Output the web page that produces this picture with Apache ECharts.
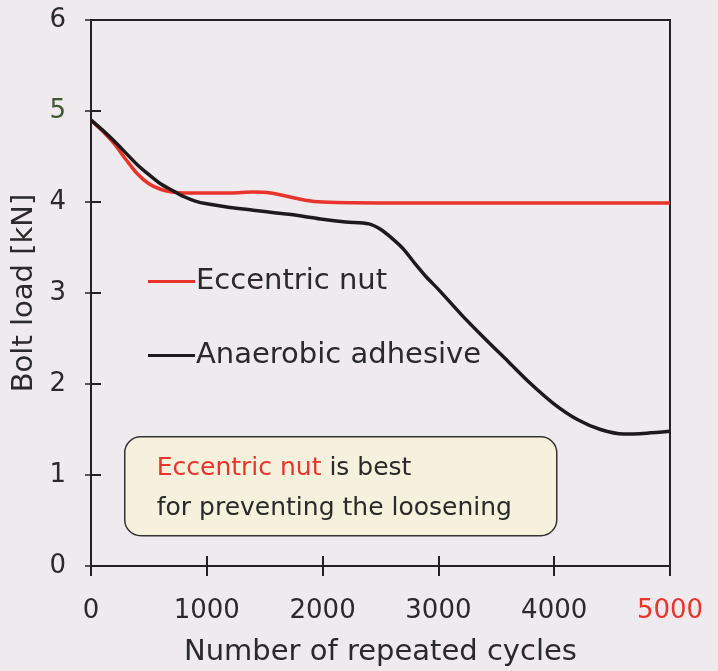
<!DOCTYPE html>
<html><head><meta charset="utf-8">
<script src="https://cdn.jsdelivr.net/npm/echarts@6/dist/echarts.min.js"></script>
<style>html,body{margin:0;padding:0;background:#efeaee;}#c{width:718px;height:671px;}</style>
</head><body><div id="c"></div>
<script>
const xTicks = [0, 1000, 2000, 3000, 4000, 5000];
const yTicks = [0, 1, 2, 3, 4, 5, 6];
const eccX = [0,100,200,300,400,500,600,700,800,1000,1200,1400,1550,1700,1850,2000,2500,3000,4000,5000];
const eccY = [4.90,4.78,4.64,4.47,4.31,4.20,4.14,4.11,4.10,4.10,4.10,4.11,4.10,4.06,4.02,4.00,3.99,3.99,3.99,3.99];
const anaX = [0,100,200,300,400,500,600,700,800,900,1000,1200,1400,1600,1800,2000,2200,2400,2500,2600,2700,2800,2900,3000,3200,3400,3600,3800,4000,4200,4400,4600,4800,5000];
const anaY = [4.90,4.79,4.67,4.54,4.41,4.30,4.20,4.13,4.06,4.01,3.98,3.94,3.91,3.88,3.85,3.81,3.78,3.76,3.70,3.60,3.48,3.32,3.17,3.04,2.76,2.50,2.25,2.00,1.78,1.61,1.50,1.45,1.46,1.48];
const seriesNames = ['Eccentric nut', 'Anaerobic adhesive'];
const noteRed = 'Eccentric nut';
const noteRest1 = ' is best';
const noteLine2 = 'for preventing the loosening';

const FONT = 'DejaVu Sans';
const chart = echarts.init(document.getElementById('c'));
const zip = (a, b) => a.map((v, i) => [v, b[i]]);
chart.setOption({
  backgroundColor: '#efeaee',
  animation: false,
  textStyle: { fontFamily: FONT },
  grid: { left: 91, right: 48, top: 20, bottom: 105, containLabel: false, outerBoundsMode: 'none',
    show: true, borderColor: '#222', borderWidth: 2, backgroundColor: 'transparent' },
  legend: {
    left: 143, top: 262, orient: 'vertical', itemGap: 45,
    icon: 'rect', itemWidth: 47, itemHeight: 3,
    textStyle: { fontSize: 29, color: '#2a2a2a', fontFamily: FONT, padding: [0, 0, 0, -4] },
    data: seriesNames
  },
  xAxis: [{
    type: 'value', min: 0, max: 5000, interval: 1000,
    name: 'Number of repeated cycles', nameLocation: 'middle', nameGap: 72,
    nameTextStyle: { fontSize: 29, color: '#2a2a2a', fontFamily: FONT },
    axisLine: { show: true, lineStyle: { color: '#222', width: 2 } },
    axisTick: { show: true, inside: true, length: 10, lineStyle: { color: '#222', width: 2 } },
    axisLabel: { fontSize: 26, margin: 32, fontFamily: FONT, formatter: (v) => String(v),
      color: (v) => (Number(v) === xTicks[xTicks.length - 1] ? '#e8342a' : '#2a2a2a') },
    splitLine: { show: false }
  }, {
    type: 'value', min: 0, max: 5000, interval: 1000, position: 'top',
    axisLine: { show: false },
    axisTick: { show: true, inside: true, length: 10, lineStyle: { color: '#222', width: 2 } },
    axisLabel: { show: false }, splitLine: { show: false }
  }],
  yAxis: [{
    type: 'value', min: 0, max: 6, interval: 1,
    name: 'Bolt load [kN]', nameLocation: 'middle', nameGap: 49, nameRotate: 90,
    nameTextStyle: { fontSize: 29, color: '#2a2a2a', fontFamily: FONT },
    axisLine: { show: true, lineStyle: { color: '#222', width: 2 } },
    axisTick: { show: true, inside: true, length: 10, lineStyle: { color: '#222', width: 2 } },
    axisLabel: { fontSize: 26, margin: 25, fontFamily: FONT,
      color: (v) => (Number(v) === 5 ? '#3d5a2e' : '#2a2a2a') },
    splitLine: { show: false }
  }, {
    type: 'value', min: 0, max: 6, interval: 1, position: 'right',
    axisLine: { show: false },
    axisTick: { show: true, inside: true, length: 6, lineStyle: { color: '#222', width: 1.5 } },
    axisLabel: { show: false }, splitLine: { show: false }
  }],
  series: [{
    name: seriesNames[0], type: 'line', data: zip(eccX, eccY), smooth: 0.3,
    symbol: 'none', lineStyle: { color: '#e8342a', width: 3.5 }, itemStyle: { color: '#e8342a' }, z: 3
  }, {
    name: seriesNames[1], type: 'line', data: zip(anaX, anaY), smooth: 0.3,
    symbol: 'none', lineStyle: { color: '#1e1a1c', width: 3.5 }, itemStyle: { color: '#1e1a1c' }, z: 4
  }],
  graphic: [{
    type: 'group', left: 124, top: 436,
    children: [{
      type: 'rect', shape: { x: 0, y: 0, width: 432, height: 99, r: 16 },
      style: { fill: '#f6f1dc', stroke: '#333', lineWidth: 1.5 }
    }, {
      type: 'text', x: 32, y: 12,
      style: {
        text: '{r|' + noteRed + '}{k|' + noteRest1 + '}\n{k|' + noteLine2 + '}',
        rich: {
          r: { fill: '#e8342a', fontSize: 25, fontFamily: FONT, lineHeight: 40 },
          k: { fill: '#2a2a2a', fontSize: 25, fontFamily: FONT, lineHeight: 40 }
        }
      }
    }]
  }]
});
</script></body></html>
